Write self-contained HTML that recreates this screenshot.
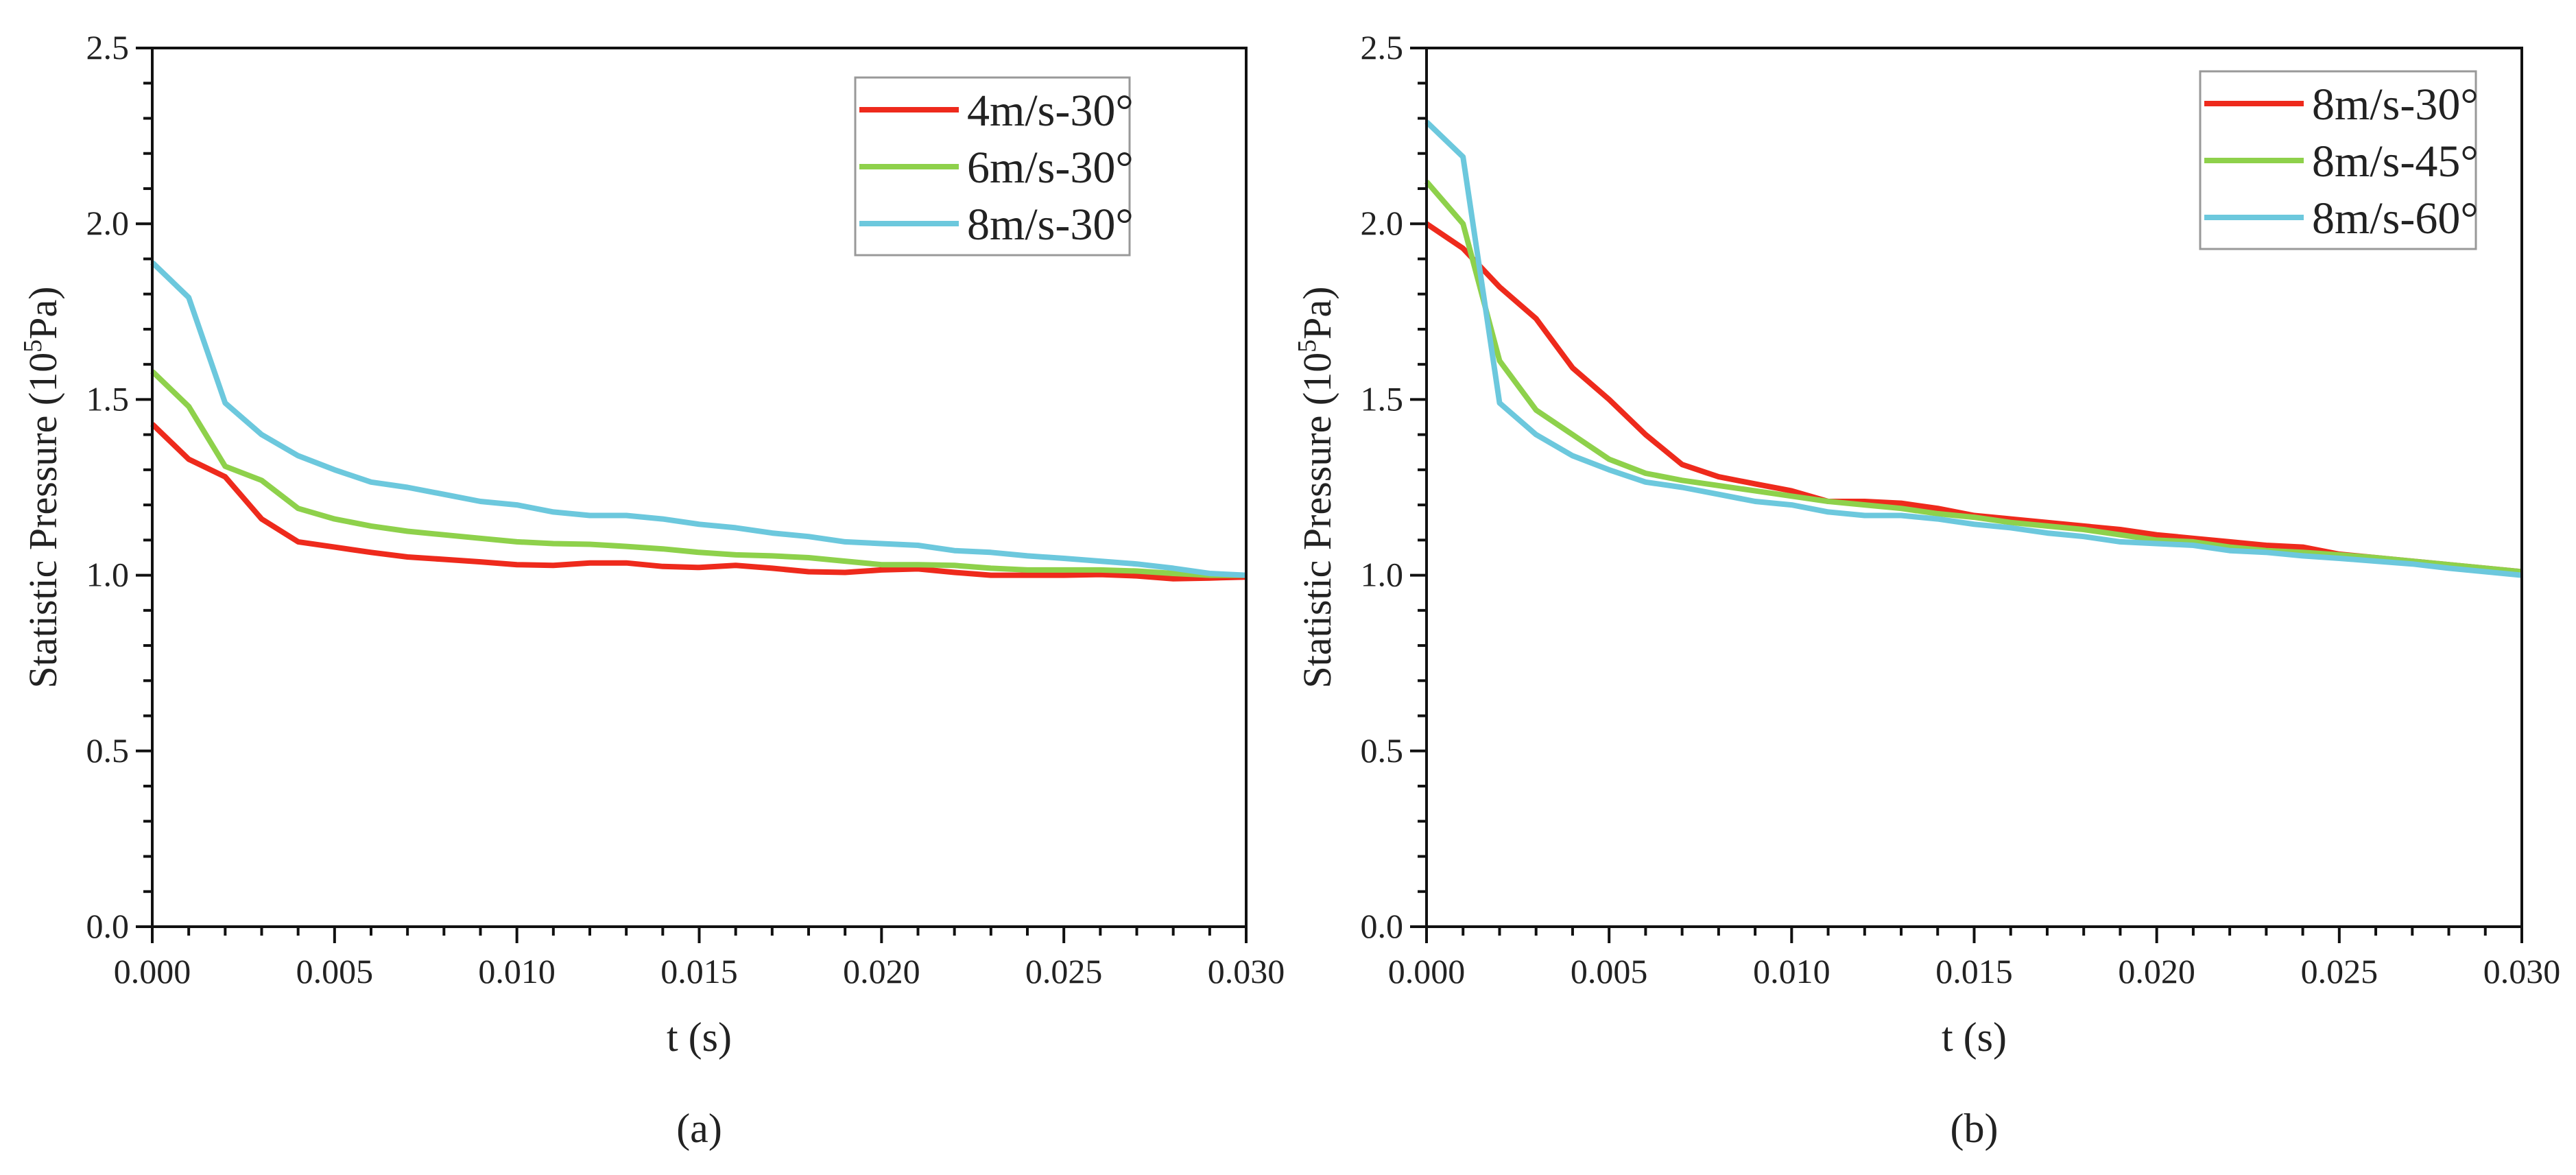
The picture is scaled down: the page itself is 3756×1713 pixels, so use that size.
<!DOCTYPE html>
<html><head><meta charset="utf-8"><style>
html,body{margin:0;padding:0;background:#fff}
svg{display:block}
text{font-family:"Liberation Serif",serif;fill:#222}
</style></head>
<body>
<svg id="chart" width="3756" height="1713" viewBox="0 0 3756 1713" xmlns="http://www.w3.org/2000/svg"></svg>
<script>
const tValues = [];
for (let i = 0; i <= 30; i++) tValues.push(i * 0.001);
const xTicks = [0, 0.005, 0.010, 0.015, 0.020, 0.025, 0.030];
const xTickLabels = ["0.000","0.005","0.010","0.015","0.020","0.025","0.030"];
const yTicks = [0, 0.5, 1.0, 1.5, 2.0, 2.5];
const yTickLabels = ["0.0","0.5","1.0","1.5","2.0","2.5"];
const seriesNamesA = ["4m/s-30°","6m/s-30°","8m/s-30°"];
const seriesNamesB = ["8m/s-30°","8m/s-45°","8m/s-60°"];
const colors = ["#ee2a1c","#8ed14b","#6cc8dd"];
const a4 = [1.43,1.33,1.28,1.16,1.095,1.08,1.065,1.052,1.045,1.038,1.03,1.028,1.035,1.035,1.025,1.022,1.028,1.02,1.01,1.008,1.015,1.018,1.008,1.0,1.0,1.0,1.002,0.998,0.99,0.992,0.995];
const a6 = [1.58,1.48,1.31,1.27,1.19,1.16,1.14,1.125,1.115,1.105,1.095,1.09,1.088,1.082,1.075,1.065,1.058,1.055,1.05,1.04,1.03,1.03,1.028,1.02,1.015,1.015,1.015,1.012,1.005,1.0,1.0];
const a8 = [1.89,1.79,1.49,1.40,1.34,1.30,1.265,1.25,1.23,1.21,1.20,1.18,1.17,1.17,1.16,1.145,1.135,1.12,1.11,1.095,1.09,1.085,1.07,1.065,1.055,1.048,1.04,1.032,1.02,1.005,1.0];
const b30 = [2.0,1.93,1.82,1.73,1.59,1.50,1.40,1.315,1.28,1.26,1.24,1.21,1.21,1.205,1.19,1.17,1.16,1.15,1.14,1.13,1.115,1.105,1.095,1.085,1.08,1.06,1.05,1.04,1.03,1.02,1.01];
const b45 = [2.12,2.0,1.61,1.47,1.40,1.33,1.29,1.27,1.255,1.24,1.225,1.21,1.2,1.19,1.175,1.165,1.15,1.14,1.13,1.115,1.1,1.095,1.08,1.07,1.065,1.058,1.05,1.04,1.03,1.02,1.01];
const b60 = [2.29,2.19,1.49,1.40,1.34,1.30,1.265,1.25,1.23,1.21,1.20,1.18,1.17,1.17,1.16,1.145,1.135,1.12,1.11,1.095,1.09,1.085,1.07,1.065,1.055,1.048,1.04,1.032,1.02,1.01,1.0];

const NS = "http://www.w3.org/2000/svg";
const svg = document.getElementById("chart");
function mk(tag, attrs, parent, txt){
  const e = document.createElementNS(NS, tag);
  for (const k in attrs) e.setAttribute(k, attrs[k]);
  if (txt !== undefined) e.textContent = txt;
  (parent || svg).appendChild(e);
  return e;
}
function panel(L, R, T, B, series, names, legBox, label, key){
  const g = mk("g", {});
  
  
  const xs = v => L + (v - 0) / 0.030 * (R - L);
  const ys = v => B - v / 2.5 * (B - T);
  for (let i = 0; i <= 30; i++) {
    const x = xs(i * 0.001);
    const major = i % 5 === 0;
    mk("line", {x1:x, y1:B, x2:x, y2:B + (major ? 24 : 13), stroke:"#111", "stroke-width":4}, g);
  }
  for (let i = 0; i <= 25; i++) {
    const y = ys(i * 0.1);
    const major = i % 5 === 0;
    mk("line", {x1:L, y1:y, x2:L - (major ? 24 : 13), y2:y, stroke:"#111", "stroke-width":4}, g);
  }
  xTicks.forEach((v, i) => {
    const t = mk("text", {x:xs(v), y:B + 82, "font-size":50, "text-anchor":"middle"}, g, xTickLabels[i]);
    
    
  });
  yTicks.forEach((v, i) => {
    const t = mk("text", {x:L - 34, y:ys(v) + 16, "font-size":50, "text-anchor":"end"}, g, yTickLabels[i]);
    
    
  });
  series.forEach((arr, si) => {
    const d = arr.map((v, i) => (i ? "L" : "M") + xs(tValues[i]).toFixed(1) + "," + ys(v).toFixed(1)).join(" ");
    const p = mk("path", {d:d, fill:"none", stroke:colors[si], "stroke-width":8, "stroke-linejoin":"round"}, g);
    
    
  });
  const f = mk("rect", {x:L, y:T, width:R - L, height:B - T, fill:"none", stroke:"#111", "stroke-width":4}, g);
  
  
  const xt = mk("text", {x:(L + R) / 2, y:1532, "font-size":60, "text-anchor":"middle"}, g, "t (s)");
  
  
  const yt = mk("text", {x:0, y:0, "font-size":58, "text-anchor":"middle", transform:"translate(" + (L - 140) + "," + ((T + B) / 2) + ") rotate(-90)"}, g);
  
  
  mk("tspan", {}, yt, "Statistic Pressure (10");
  mk("tspan", {dy:-22, "font-size":38}, yt, "5");
  mk("tspan", {dy:22}, yt, "Pa)");
  const cap = mk("text", {x:(L + R) / 2, y:1665, "font-size":60, "text-anchor":"middle"}, g, label);
  
  
  const lg = mk("g", {}, g);
  
  
  mk("rect", {x:legBox[0], y:legBox[1], width:legBox[2], height:legBox[3], fill:"#fff", stroke:"#999", "stroke-width":3}, lg);
  names.forEach((n, i) => {
    const y = legBox[1] + 47 + i * 83;
    const e = mk("g", {}, lg);
    
    
    mk("line", {x1:legBox[0] + 6, y1:y, x2:legBox[0] + 151, y2:y, stroke:colors[i], "stroke-width":8}, e);
    mk("text", {x:legBox[0] + 163, y:y + 23, "font-size":66}, e, n);
  });
}
panel(222, 1817, 70, 1351, [a4, a6, a8], seriesNamesA, [1247, 113, 400, 259], "(a)", "a");
panel(2080, 3677, 70, 1351, [b30, b45, b60], seriesNamesB, [3208, 104, 402, 259], "(b)", "b");
</script>
</body></html>
